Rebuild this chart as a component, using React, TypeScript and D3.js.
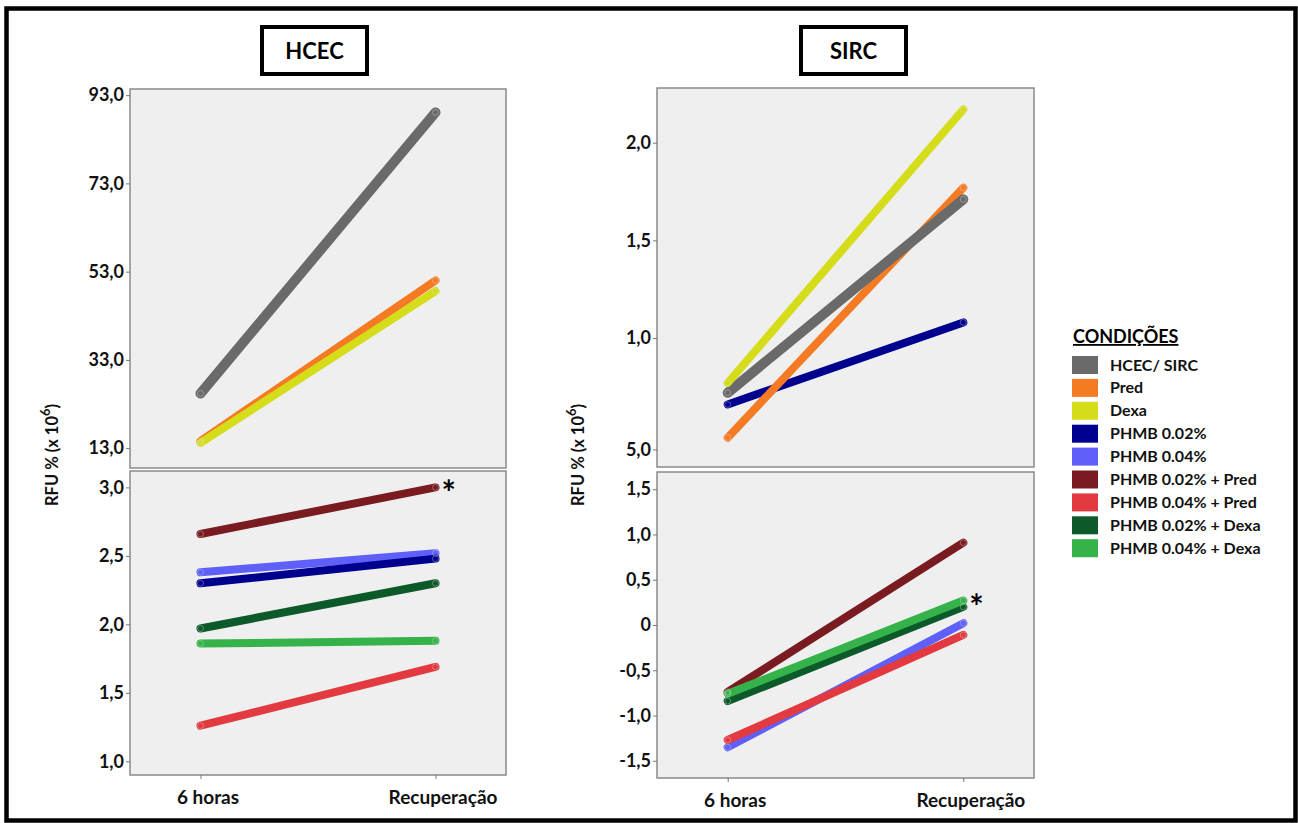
import React, { useEffect, useRef } from "react";
import * as d3 from "d3";

// time points on the x axis
const periods = ["6 horas", "Recuperação"];

// legend
const conditions = [
    "HCEC/ SIRC",
    "Pred",
    "Dexa",
    "PHMB 0.02%",
    "PHMB 0.04%",
    "PHMB 0.02% + Pred",
    "PHMB 0.04% + Pred",
    "PHMB 0.02% + Dexa",
    "PHMB 0.04% + Dexa"
];
const conditionColors = [
    "#6a6a6a",
    "#f47b24",
    "#d5dc1a",
    "#00008f",
    "#5f5ffa",
    "#7a1b21",
    "#e23a40",
    "#0c5a2a",
    "#35b24a"
];

// HCEC - upper panel (values at 6 horas, Recuperação)
const hcecTopSeries = [
    { cond: "HCEC/ SIRC", values: [25.4, 89.1] },
    { cond: "Pred", values: [14.6, 51.0] },
    { cond: "Dexa", values: [14.2, 48.6] }
];
// HCEC - lower panel
const hcecBottomSeries = [
    { cond: "PHMB 0.04%", values: [2.38, 2.52] },
    { cond: "PHMB 0.02%", values: [2.30, 2.48] },
    { cond: "PHMB 0.02% + Pred", values: [2.66, 3.0] },
    { cond: "PHMB 0.02% + Dexa", values: [1.97, 2.30] },
    { cond: "PHMB 0.04% + Dexa", values: [1.86, 1.88] },
    { cond: "PHMB 0.04% + Pred", values: [1.26, 1.69] }
];
// SIRC - upper panel
const sircTopSeries = [
    { cond: "PHMB 0.02%", values: [0.66, 1.08] },
    { cond: "Pred", values: [0.49, 1.77] },
    { cond: "HCEC/ SIRC", values: [0.72, 1.71] },
    { cond: "Dexa", values: [0.77, 2.17] }
];
// SIRC - lower panel
const sircBottomSeries = [
    { cond: "PHMB 0.02% + Pred", values: [-0.74, 0.91] },
    { cond: "PHMB 0.04%", values: [-1.35, 0.02] },
    { cond: "PHMB 0.04% + Pred", values: [-1.27, -0.11] },
    { cond: "PHMB 0.02% + Dexa", values: [-0.84, 0.20] },
    { cond: "PHMB 0.04% + Dexa", values: [-0.76, 0.27] }
];

// tick values and their printed labels
const hcecTopTicks = [13, 33, 53, 73, 93];
const hcecTopTickLabels = ["13,0", "33,0", "53,0", "73,0", "93,0"];
const hcecBottomTicks = [1.0, 1.5, 2.0, 2.5, 3.0];
const hcecBottomTickLabels = ["1,0", "1,5", "2,0", "2,5", "3,0"];
const sircTopTicks = [0.43, 1.0, 1.5, 2.0];
const sircTopTickLabels = ["5,0", "1,0", "1,5", "2,0"];
const sircBottomTicks = [-1.5, -1.0, -0.5, 0, 0.5, 1.0, 1.5];
const sircBottomTickLabels = ["-1,5", "-1,0", "-0,5", "0", "0,5", "1,0", "1,5"];

const FONT = "Lato, 'Open Sans', sans-serif";

function App() {
    const chart = useRef(null);

    useEffect(() => {
        const W = 1298;
        const H = 823;
        const svg = d3.select(chart.current)
            .attr("width", W)
            .attr("height", H)
            .style("font-family", FONT);

        const color = d3.scaleOrdinal().domain(conditions).range(conditionColors);

        // outer frame
        svg.append("rect")
            .attr("x", 6.5).attr("y", 8.5)
            .attr("width", 1289).attr("height", 812)
            .attr("fill", "#fff")
            .attr("stroke", "#000")
            .attr("stroke-width", 4.5);

        const charts = [
            {
                title: "HCEC", box: [262, 27, 105, 47],
                x0: 130, x1: 506, top: [89, 468], bottom: [471, 775],
                yTitleX: 52,
                panels: [
                    { series: hcecTopSeries, domain: [8.5, 94.4], ticks: hcecTopTicks, labels: hcecTopTickLabels, wide: "HCEC/ SIRC" },
                    { series: hcecBottomSeries, domain: [0.9, 3.12], ticks: hcecBottomTicks, labels: hcecBottomTickLabels, star: "PHMB 0.02% + Pred" }
                ]
            },
            {
                title: "SIRC", box: [801, 27, 105, 47],
                x0: 657, x1: 1034, top: [88, 467], bottom: [472, 778],
                yTitleX: 578,
                panels: [
                    { series: sircTopSeries, domain: [0.34, 2.28], ticks: sircTopTicks, labels: sircTopTickLabels, wide: "HCEC/ SIRC" },
                    { series: sircBottomSeries, domain: [-1.69, 1.69], ticks: sircBottomTicks, labels: sircBottomTickLabels, star: "PHMB 0.04% + Dexa" }
                ]
            }
        ];

        charts.forEach(c => {
            // title box
            const [bx, by, bw, bh] = c.box;
            svg.append("rect")
                .attr("x", bx).attr("y", by)
                .attr("width", bw).attr("height", bh)
                .attr("fill", "#fff")
                .attr("stroke", "#000")
                .attr("stroke-width", 4);
            svg.append("text")
                .attr("x", bx + bw / 2).attr("y", by + bh / 2 + 8)
                .attr("text-anchor", "middle")
                .attr("font-size", 22)
                .attr("font-weight", "bold")
                .text(c.title);

            const x = d3.scalePoint()
                .domain(periods)
                .range([c.x0, c.x1])
                .padding(0.3);

            const ranges = [c.top, c.bottom];
            c.panels.forEach((p, pi) => {
                const [py0, py1] = ranges[pi];
                const y = d3.scaleLinear().domain(p.domain).range([py1, py0]);

                svg.append("rect")
                    .attr("x", c.x0).attr("y", py0)
                    .attr("width", c.x1 - c.x0).attr("height", py1 - py0)
                    .attr("fill", "#efefef")
                    .attr("stroke", "#8a8a8a")
                    .attr("stroke-width", 1.5);

                // y axis
                const yAxis = d3.axisLeft(y)
                    .tickValues(p.ticks)
                    .tickFormat((d, i) => p.labels[i])
                    .tickSize(4)
                    .tickPadding(2);
                const gy = svg.append("g")
                    .attr("transform", `translate(${c.x0},0)`)
                    .call(yAxis);
                gy.select(".domain").remove();
                gy.selectAll("line").attr("stroke", "#777");
                gy.selectAll("text")
                    .attr("font-family", FONT)
                    .attr("font-size", 18)
                    .attr("font-weight", "bold")
                    .attr("fill", "#111");

                // lines
                const line = d3.line()
                    .x((d, i) => x(periods[i]))
                    .y(d => y(d));
                svg.append("g")
                    .selectAll("path")
                    .data(p.series)
                    .enter()
                    .append("path")
                        .attr("d", d => line(d.values))
                        .attr("fill", "none")
                        .attr("stroke", d => color(d.cond))
                        .attr("stroke-width", d => d.cond === p.wide ? 10 : 8)
                        .attr("stroke-linecap", "round");

                // end markers
                p.series.forEach(s => {
                    svg.append("g")
                        .selectAll("circle")
                        .data(s.values)
                        .enter()
                        .append("circle")
                            .attr("cx", (d, i) => x(periods[i]))
                            .attr("cy", d => y(d))
                            .attr("r", 3)
                            .attr("fill", "none")
                            .attr("stroke", "#e4e4e4")
                            .attr("stroke-opacity", 0.45)
                            .attr("stroke-width", 0.8);
                });

                if (p.star) {
                    const s = p.series.find(d => d.cond === p.star);
                    svg.append("text")
                        .attr("x", x(periods[1]) + 6)
                        .attr("y", y(s.values[1]) + 18)
                        .attr("font-size", 34)
                        .attr("font-weight", "bold")
                        .text("*");
                }

                // x axis under the lower panel
                if (pi === 1) {
                    const xAxis = d3.axisBottom(x).tickSize(4).tickPadding(12);
                    const gx = svg.append("g")
                        .attr("transform", `translate(0,${py1})`)
                        .call(xAxis);
                    gx.select(".domain").remove();
                    gx.selectAll("line").attr("stroke", "#777");
                    gx.selectAll("text")
                        .attr("font-family", FONT)
                        .attr("font-size", 19)
                        .attr("font-weight", "bold")
                        .attr("fill", "#111")
                        .attr("dx", 7);
                }
            });

            // y axis title
            const yt = svg.append("text")
                .attr("transform", `translate(${c.yTitleX + 6},455) rotate(-90)`)
                .attr("text-anchor", "middle")
                .attr("font-size", 16.5)
                .attr("font-weight", "bold")
                .attr("fill", "#111");
            yt.append("tspan").text("RFU % (x 10");
            yt.append("tspan").attr("dy", -8).attr("font-size", 13).text("6");
            yt.append("tspan").attr("dy", 8).text(")");
        });

        // legend
        const legend = svg.append("g").attr("transform", "translate(1072,0)");
        legend.append("text")
            .attr("x", 1).attr("y", 343)
            .attr("font-size", 18)
            .attr("font-weight", "bold")
            .attr("text-decoration", "underline")
            .text("CONDIÇÕES");
        const rows = legend.selectAll(".row")
            .data(conditions)
            .enter()
            .append("g")
                .attr("class", "row")
                .attr("transform", (d, i) => `translate(0,${365 + i * 22.9})`);
        rows.append("rect")
            .attr("x", 0).attr("y", -9)
            .attr("width", 26).attr("height", 18)
            .attr("fill", d => color(d));
        rows.append("text")
            .attr("x", 38).attr("y", 5.5)
            .attr("font-size", 16)
            .attr("font-weight", "bold")
            .attr("fill", "#111")
            .text(d => d);

        return () => {
            svg.selectAll("*").remove();
        };
    }, []);

    return (
        <svg ref={chart} style={{ position: "absolute", left: 0, top: 0 }}></svg>
    );
}

export default App;
